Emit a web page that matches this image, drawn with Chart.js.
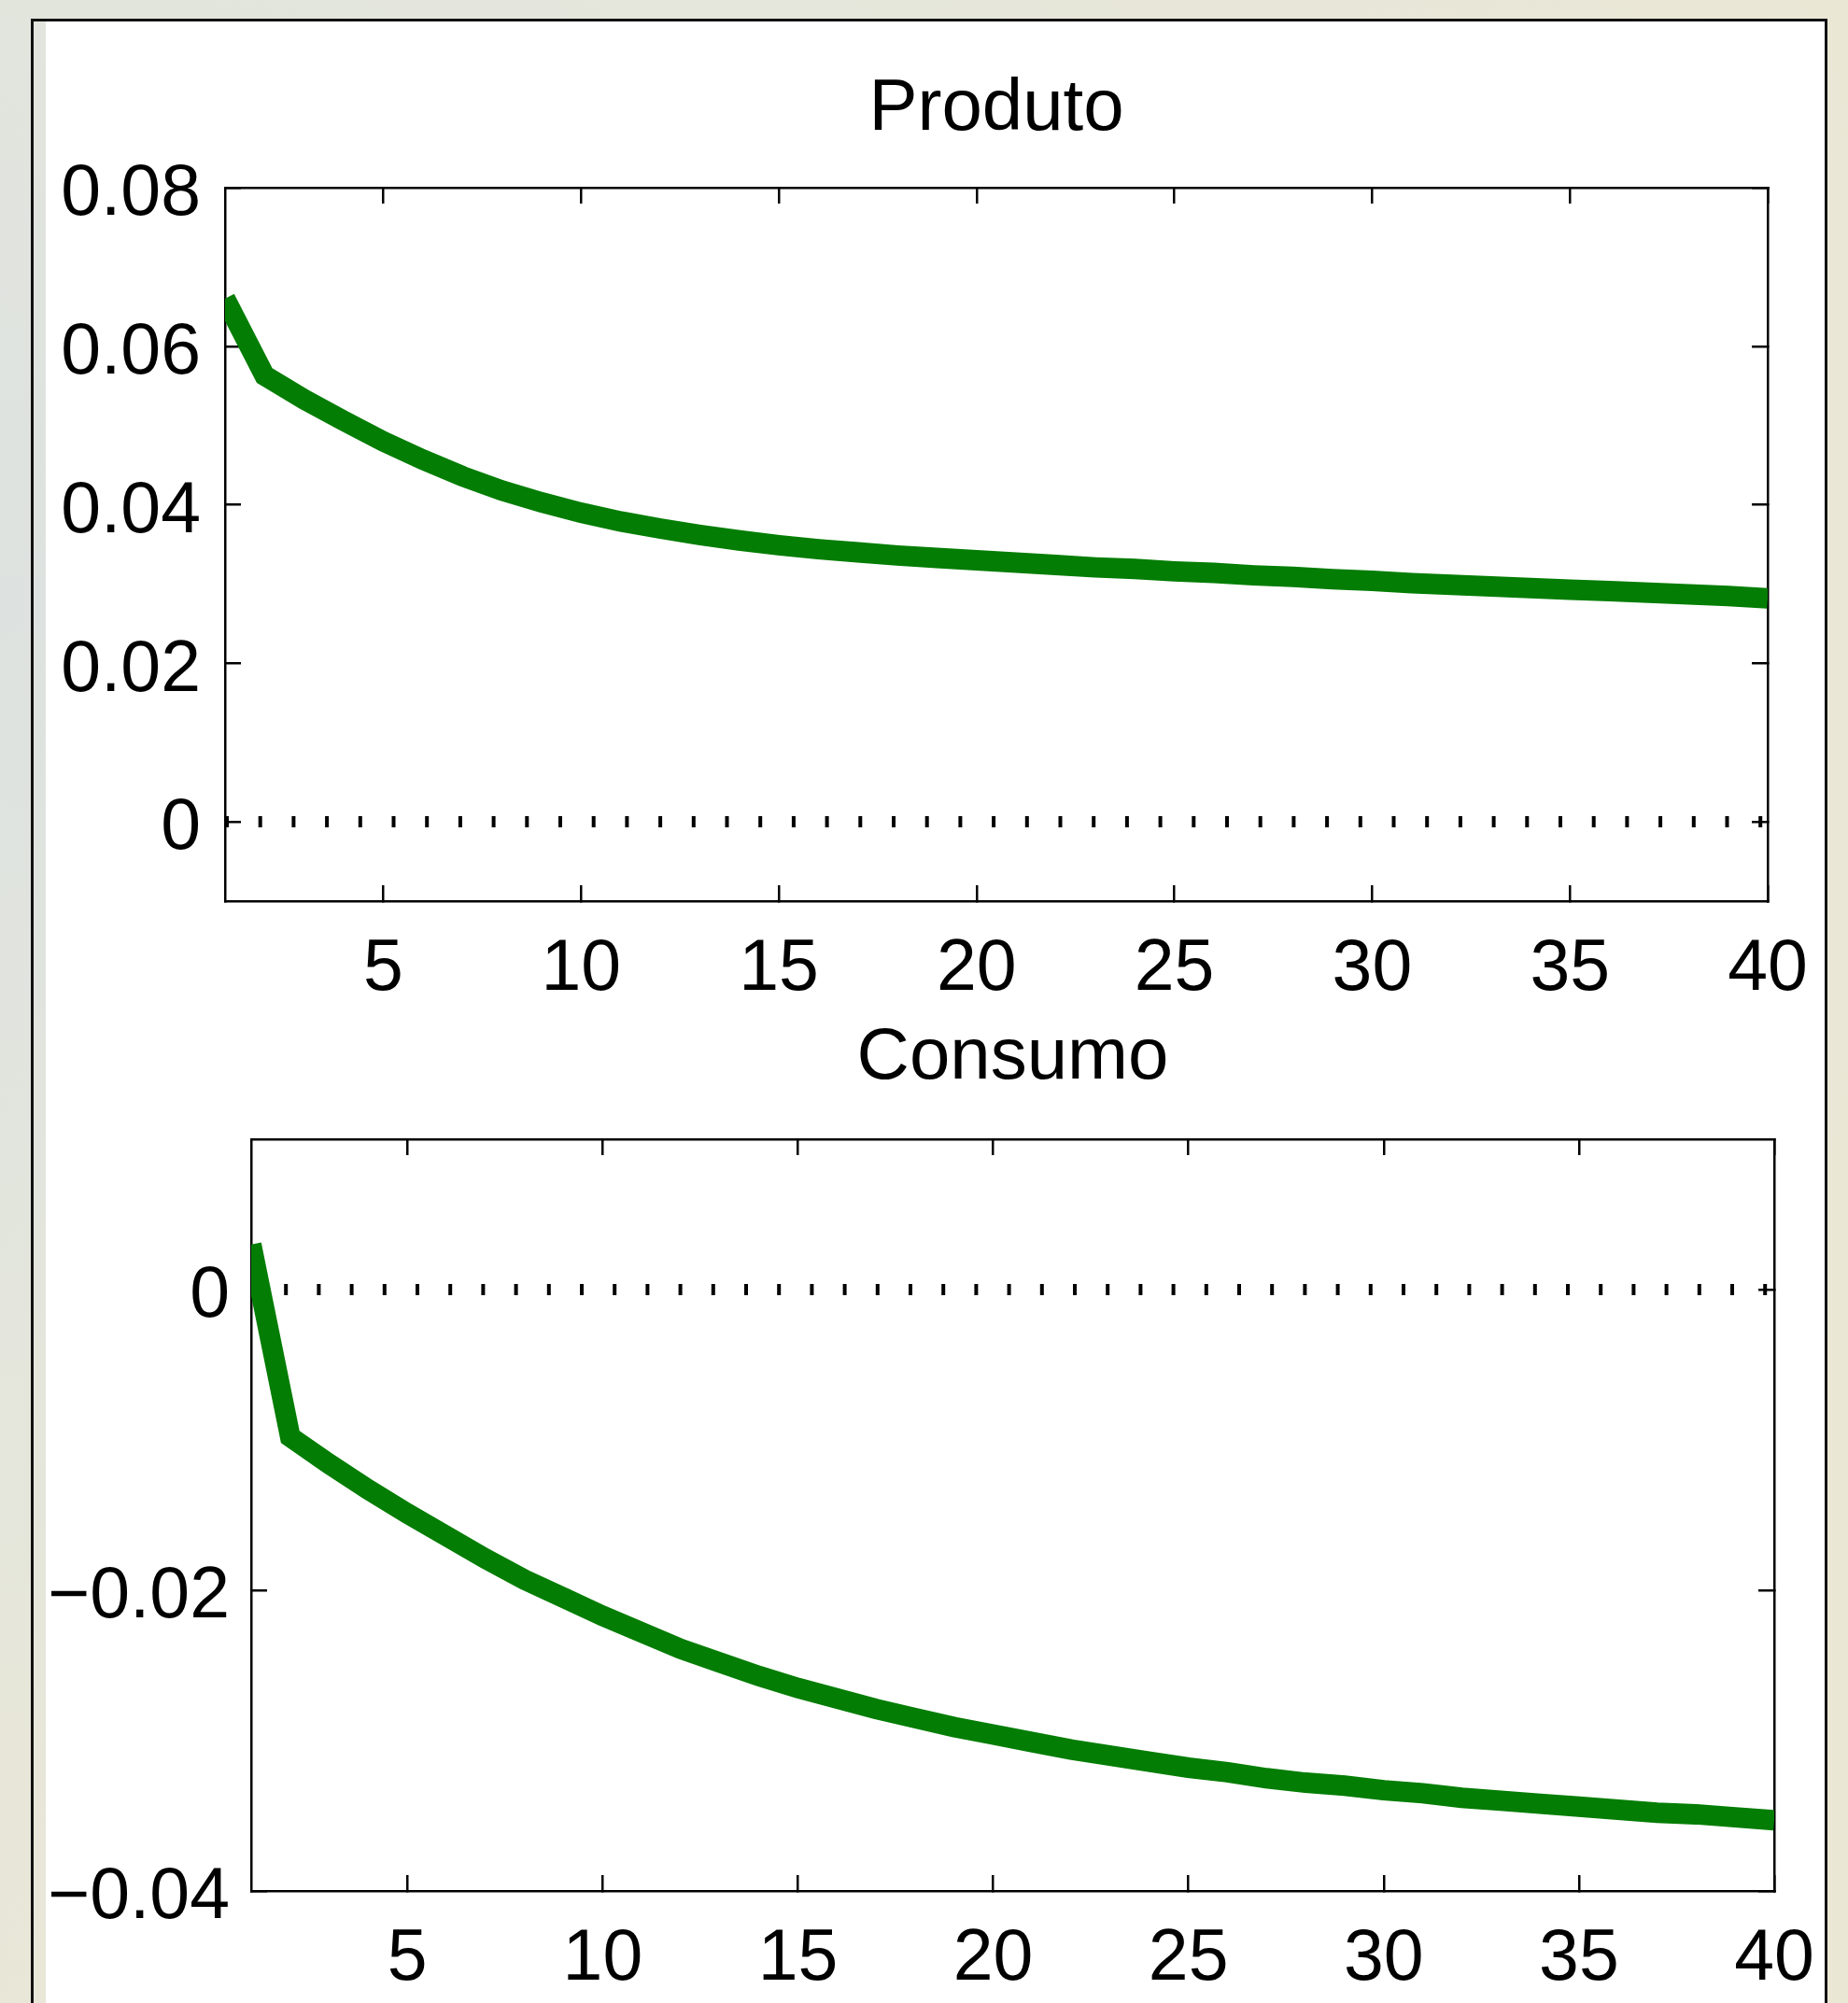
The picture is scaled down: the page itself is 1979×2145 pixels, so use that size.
<!DOCTYPE html>
<html>
<head>
<meta charset="utf-8">
<script src="https://cdn.jsdelivr.net/npm/chart.js@4"></script>
<style>
  html, body { margin: 0; padding: 0; }
  body {
    position: relative;
    width: 1979px;
    height: 2145px;
    overflow: hidden;
    background: radial-gradient(ellipse 110% 85% at 0% 30%, #dde2e0 0%, #e4e6dc 45%, #ebe7d5 100%);
  }
  #frame {
    position: absolute; left: 33px; top: 20px; width: 1918px; height: 2130px;
    border: 3px solid #111; border-bottom: none;
  }
  #panel { position: absolute; left: 49px; top: 23px; width: 1905px; height: 2122px; background: #fff; }
  canvas { position: absolute; left: 49px; }
  #produto { top: 40px; }
  #consumo { top: 1080px; }
</style>
</head>
<body>
<div id="frame"></div>
<div id="panel"></div>
<canvas id="produto" width="1900" height="1040"></canvas>
<canvas id="consumo" width="1900" height="1065"></canvas>
<script>
const periodos = [1, 2, 3, 4, 5, 6, 7, 8, 9, 10, 11, 12, 13, 14, 15, 16, 17, 18, 19, 20,
  21, 22, 23, 24, 25, 26, 27, 28, 29, 30, 31, 32, 33, 34, 35, 36, 37, 38, 39, 40]

const produto = [0.0660, 0.0563, 0.0533, 0.0506, 0.0480, 0.0457, 0.0436, 0.0418, 0.0403, 0.0390,
  0.0379, 0.0370, 0.0362, 0.0355, 0.0349, 0.0344, 0.0340, 0.0336, 0.0333, 0.0330,
  0.0327, 0.0324, 0.0321, 0.0319, 0.0316, 0.0314, 0.0311, 0.0309, 0.0306, 0.0304,
  0.0301, 0.0299, 0.0297, 0.0295, 0.0293, 0.0291, 0.0289, 0.0287, 0.0285, 0.0282]

const consumo = [0.0030, -0.0098, -0.0116, -0.0133, -0.0149, -0.0164, -0.0179, -0.0193, -0.0205, -0.0217,
  -0.0228, -0.0239, -0.0248, -0.0257, -0.0265, -0.0272, -0.0279, -0.0285, -0.0291, -0.0296,
  -0.0301, -0.0306, -0.0310, -0.0314, -0.0318, -0.0321, -0.0325, -0.0328, -0.0330, -0.0333,
  -0.0335, -0.0338, -0.0340, -0.0342, -0.0344, -0.0346, -0.0348, -0.0349, -0.0351, -0.0353]

const xTicks = [5, 10, 15, 20, 25, 30, 35, 40]
const produtoTicks = [0, 0.02, 0.04, 0.06, 0.08]
const produtoLabels = ["0", "0.02", "0.04", "0.06", "0.08"]
const consumoTicks = [-0.04, -0.02, 0]
const consumoLabels = ["\u22120.04", "\u22120.02", "0"]

const fontFamily = "'Liberation Sans', Arial, Helvetica, sans-serif"
const tickFont = {family: fontFamily, size: 77}
// MATLAB style ticks point into the box
const TICK = -17

function fixedTicks(values) {
  return (scale) => { scale.ticks = values.map((v) => ({value: v})) }
}

function buildChart(id, cfg) {
  const points = cfg.values.map((v, i) => ({x: periodos[i], y: v}))
  const zero = [{x: periodos[0], y: 0}, {x: periodos[periodos.length - 1], y: 0}]
  const grid = {display: true, drawOnChartArea: false, drawTicks: true, tickLength: TICK, color: "#000", lineWidth: 2.5}
  const border = {display: true, color: "#000", width: 2.5}
  const xRange = {type: "linear", min: periodos[0], max: periodos[periodos.length - 1]}
  const yRange = {type: "linear", min: cfg.yMin, max: cfg.yMax}

  return new Chart(document.getElementById(id), {
    type: "line",
    data: {
      datasets: [
        {data: points, borderColor: "#037d03", borderWidth: 22, pointRadius: 0, clip: 0, order: 1},
        {data: zero, borderColor: "#000", borderWidth: 12, borderDash: cfg.dash, pointRadius: 0, clip: 0, order: 2}
      ]
    },
    options: {
      responsive: false,
      animation: false,
      devicePixelRatio: 1,
      layout: {padding: {left: 0, right: cfg.padRight, top: 0, bottom: 0}},
      plugins: {
        legend: {display: false},
        tooltip: {enabled: false},
        title: {
          display: true,
          fullSize: false,
          text: cfg.title,
          color: "#000",
          font: {family: fontFamily, size: 78, weight: "normal"},
          padding: cfg.titlePad
        }
      },
      scales: {
        x: {
          ...xRange, position: "bottom", grid, border, z: 1,
          afterBuildTicks: fixedTicks(xTicks),
          afterFit: (s) => {
            s.height = cfg.xHeight
            s.paddingLeft = 0
            s.paddingRight = 0
          },
          ticks: {autoSkip: false, maxRotation: 0, color: "#000", font: tickFont, padding: cfg.xPad - TICK,
            callback: (v) => String(v)}
        },
        x2: {
          ...xRange, position: "top", grid, border, z: 1,
          afterBuildTicks: fixedTicks(xTicks),
          afterFit: (s) => {
            s.height = 0
            s.paddingLeft = 0
            s.paddingRight = 0
          },
          ticks: {display: false}
        },
        y: {
          ...yRange, position: "left", grid, border, z: 1,
          afterBuildTicks: fixedTicks(cfg.yTicks),
          afterFit: (s) => {
            s.width = cfg.yWidth
            s.paddingTop = 0
            s.paddingBottom = 0
          },
          ticks: {autoSkip: false, color: "#000", font: tickFont, padding: cfg.yPad - TICK, labelOffset: 8,
            callback: (v, i) => cfg.yLabels[i]}
        },
        y2: {
          ...yRange, position: "right", grid, border, z: 1,
          afterBuildTicks: fixedTicks(cfg.yTicks),
          afterFit: (s) => {
            s.width = 0
            s.paddingTop = 0
            s.paddingBottom = 0
          },
          ticks: {display: false}
        }
      }
    }
  })
}

buildChart("produto", {
  title: "Produto",
  values: produto,
  yMin: -0.01, yMax: 0.08,
  yTicks: produtoTicks, yLabels: produtoLabels,
  yWidth: 192, yPad: 26, padRight: 56,
  xHeight: 115, xPad: 28,
  titlePad: {top: 31, bottom: 36.4},
  dash: [4, 31.7]
})

buildChart("consumo", {
  title: "Consumo",
  values: consumo,
  yMin: -0.04, yMax: 0.01,
  yTicks: consumoTicks, yLabels: consumoLabels,
  yWidth: 220, yPad: 23, padRight: 49,
  xHeight: 120, xPad: 28,
  titlePad: {top: 7, bottom: 39.4},
  dash: [4, 31.2]
})
</script>
</body>
</html>
